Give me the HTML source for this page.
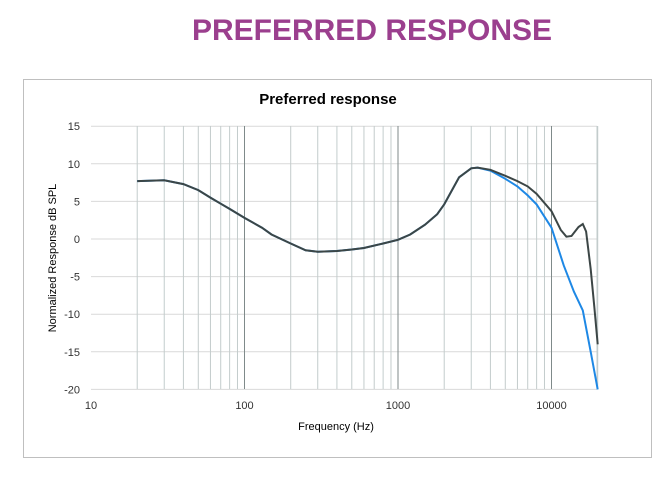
<!DOCTYPE html>
<html><head><meta charset="utf-8"><style>
body{margin:0;width:662px;height:476px;background:#fff;overflow:hidden;font-family:"Liberation Sans",sans-serif}
</style></head><body>
<svg id="s" width="662" height="476" xmlns="http://www.w3.org/2000/svg">
<text x="372" y="40" text-anchor="middle" font-size="30" font-weight="bold" fill="#9b3f8e" font-family="Liberation Sans,sans-serif">PREFERRED RESPONSE</text>
<rect x="23.5" y="79.5" width="628" height="378" fill="#fff" stroke="#bfbfbf"/>
<text x="328" y="104" text-anchor="middle" font-size="15" font-weight="bold" fill="#000">Preferred response</text>
<g id="g"></g>
<text x="336" y="430" text-anchor="middle" font-size="11" fill="#000">Frequency (Hz)</text>
<text transform="translate(56,258) rotate(-90)" text-anchor="middle" font-size="11" fill="#000">Normalized Response dB SPL</text>
</svg>
<script>
var g=document.getElementById('g'),h='';
function X(f){return 91+Math.log10(f/10)*153.5}
function Y(d){return 239-d*7.52}
for(var d=-20;d<=15;d+=5){h+='<line x1="91" x2="597" y1="'+Y(d)+'" y2="'+Y(d)+'" stroke="#d9d9d9"/>';
h+='<text x="80" y="'+(Y(d)+4)+'" text-anchor="end" font-size="11" fill="#333">'+d+'</text>';}
for(var e=10;e<=10000;e*=10)for(var k=1;k<=9;k++){var f=e*k;if(f<20||f>20000)continue;
h+='<line y1="126" y2="389" x1="'+X(f)+'" x2="'+X(f)+'" stroke="'+(k==1?'#7f8a8a':'#c3cccc')+'"/>';}
h+='<line y1="126" y2="389" x1="597" x2="597" stroke="#c3cccc"/>';
[10,100,1000,10000].forEach(function(f){h+='<text x="'+X(f)+'" y="409" text-anchor="middle" font-size="11" fill="#333">'+f+'</text>'});
var dk=[[20,7.7],[30,7.8],[40,7.3],[50,6.5],[60,5.5],[70,4.7],[80,4],[100,2.8],[130,1.5],[150,0.6],[200,-0.6],[250,-1.5],[300,-1.7],[400,-1.6],[500,-1.4],[600,-1.2],[800,-0.6],[1000,-0.1],[1200,0.6],[1500,1.9],[1800,3.3],[2000,4.6],[2500,8.2],[3000,9.4],[3300,9.5],[4000,9.2],[5000,8.4],[6000,7.7],[7000,7],[8000,6],[10000,3.7],[11500,1.2],[12500,0.3],[13500,0.4],[15000,1.6],[16000,2],[16800,1],[18000,-4],[19000,-9],[20000,-14]];
var bl=dk.filter(function(p){return p[0]<4000}).concat([[4000,9.1],[5000,8],[6000,7],[7000,5.8],[8000,4.6],[10000,1.5],[12000,-3.5],[14000,-7],[16000,-9.5],[18000,-15],[20000,-20]]);
function P(a){return a.map(function(p,i){return(i?'L':'M')+X(p[0]).toFixed(1)+','+Y(p[1]).toFixed(1)}).join('')}
h+='<path d="'+P(bl)+'" fill="none" stroke="#1e88e5" stroke-width="2"/>';
h+='<path d="'+P(dk)+'" fill="none" stroke="#3c4646" stroke-width="2"/>';
g.innerHTML=h;
</script>
</body></html>
